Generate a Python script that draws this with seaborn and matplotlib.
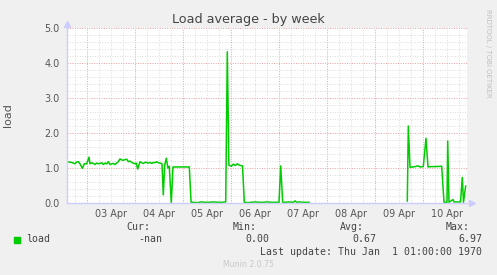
import numpy as np
import pandas as pd
import matplotlib
matplotlib.use("Agg")
import matplotlib.pyplot as plt
from matplotlib.patches import Rectangle
from matplotlib.ticker import MultipleLocator, FixedLocator, NullFormatter
import seaborn as sns

# ---- data (hours relative to 03 Apr 00:00) ----
seg_a_hours = [-10.3, -9.0, -7.8, -6.9, -6.15, -5.3, -4.5, -3.65, -2.5, -1.5, -0.3, 0.85, 1.35,
               2.2, 3.0, 3.85, 4.7, 5.5, 6.3, 7.2, 8.0, 8.85, 9.7, 10.5, 11.35, 12.2, 13.0,
               13.85, 14.7, 15.5, 16.35, 17.2, 18.0, 18.8, 19.7, 20.5, 21.3, 22.2, 23.0, 23.85,
               24.5, 25.2, 26.35, 27.2, 28.0, 28.8, 29.7, 30.5, 31.35, 32.2, 33.0, 33.8, 34.7,
               35.5, 36.35, 37.35, 38.0, 38.7, 39.5, 40.3, 41.0, 42.0, 42.85, 51.0, 51.9,
               53, 55, 57, 59, 61, 63, 65, 67, 69.2, 70.0, 70.8, 72.0, 73.0, 74.0, 75.0, 76.0,
               77.6, 78.5, 80, 82, 84, 86, 88, 90, 92, 94, 95.85, 96.7, 97.7, 99, 101, 103,
               103.85, 104.7, 106, 108, 110, 111]
seg_a_load = [1.18, 1.17, 1.16, 1.14, 1.12, 1.17, 1.18, 1.12, 0.99, 1.12, 1.12, 1.31, 1.12,
              1.15, 1.13, 1.10, 1.14, 1.12, 1.13, 1.15, 1.10, 1.14, 1.12, 1.18, 1.10, 1.12, 1.13,
              1.10, 1.14, 1.18, 1.26, 1.23, 1.22, 1.24, 1.25, 1.18, 1.20, 1.16, 1.14, 1.12,
              1.14, 0.97, 1.18, 1.15, 1.13, 1.16, 1.16, 1.14, 1.16, 1.13, 1.16, 1.15, 1.18,
              1.15, 1.14, 1.12, 0.23, 1.08, 1.28, 1.00, 1.05, 0.00, 1.03, 1.03, 0.02,
              0.02, 0.01, 0.03, 0.02, 0.02, 0.03, 0.02, 0.02, 0.03, 4.32, 1.08, 1.05, 1.11, 1.07, 1.12, 1.08,
              1.06, 0.02, 0.01, 0.02, 0.03, 0.02, 0.02, 0.03, 0.02, 0.02, 0.02, 1.06, 0.02, 0.02, 0.03, 0.02,
              0.06, 0.02, 0.03, 0.02, 0.02, 0.02]
seg_b_hours = [160.0, 160.5, 161.35, 163, 165.35, 166.35, 168.0, 169.35, 170.35, 172, 174,
               177.2, 178.35, 179.85, 180.2, 180.85, 182.85, 183.35, 186.6, 187.5, 188.1, 189.2]
seg_b_load = [0.05, 2.20, 1.02, 1.03, 1.06, 1.03, 1.04, 1.85, 1.03, 1.04, 1.04,
              1.05, 0.02, 0.02, 1.77, 0.02, 0.10, 0.03, 0.03, 0.73, 0.02, 0.49]

day_labels = ["03 Apr", "04 Apr", "05 Apr", "06 Apr", "07 Apr", "08 Apr", "09 Apr", "10 Apr"]
y_ticks = [0.0, 1.0, 2.0, 3.0, 4.0, 5.0]
legend_name = "load"
stats_labels = ["Cur:", "Min:", "Avg:", "Max:"]
stats_values = ["-nan", "0.00", "0.67", "6.97"]

df = pd.DataFrame({
    "hours": seg_a_hours + seg_b_hours,
    "load": seg_a_load + seg_b_load,
    "segment": [0] * len(seg_a_hours) + [1] * len(seg_b_hours),
})

# ---- figure ----
sns.set_style("white")
plt.rcParams["font.family"] = ["DejaVu Sans"]
W, H = 497, 275
fig = plt.figure(figsize=(W / 100, H / 100), dpi=100)
fig.patch.set_facecolor("#f0f0f0")

def fx(px):
    return px / W

def fy(py):
    return 1 - py / H

left, right, top, bottom = 66.7, 466.7, 28, 203
ax = fig.add_axes([fx(left), fy(bottom), (right - left) / W, (bottom - top) / H])
ax.set_facecolor("white")

sns.lineplot(data=df, x="hours", y="load", units="segment", estimator=None,
             color="#00cc00", lw=1.1, ax=ax, legend=False)

ax.set_xlim(-10.3, 189.7)
ax.set_ylim(0, 5)

# grid
ax.xaxis.set_major_locator(MultipleLocator(24))
ax.xaxis.set_minor_locator(MultipleLocator(6))
ax.yaxis.set_major_locator(FixedLocator(y_ticks))
ax.yaxis.set_minor_locator(MultipleLocator(0.2))
ax.xaxis.set_major_formatter(NullFormatter())
ax.set_yticklabels([f"{v:.1f}" for v in y_ticks])
ax.grid(True, which="major", color="#e8a0a0", linestyle=(0, (1, 1.5)), lw=0.7)
ax.grid(True, which="minor", color="#d0d0d0", linestyle=(0, (1, 2)), lw=0.6)
ax.set_axisbelow(True)

ax.tick_params(axis="x", which="major", length=3, color="#e8a0a0", direction="out", pad=1)
ax.tick_params(axis="x", which="minor", length=2, color="#cccccc", direction="out")
ax.tick_params(axis="y", which="major", length=2, color="#e8a0a0", direction="out",
               labelsize=6.9, labelcolor="#555555", pad=3)
ax.tick_params(axis="y", which="minor", length=2, color="#cccccc", direction="out")

# day labels at noon
sec = ax.secondary_xaxis("bottom")
sec.set_xticks([12 + 24 * i for i in range(len(day_labels))])
sec.set_xticklabels(day_labels)
sec.tick_params(length=0, labelsize=6.9, labelcolor="#555555", pad=4)
sec.spines["bottom"].set_visible(False)

for s in ["top", "right"]:
    ax.spines[s].set_visible(False)
for s in ["left", "bottom"]:
    ax.spines[s].set_color("#ccccff")
    ax.spines[s].set_linewidth(1.0)

# axis arrows
ax.plot([0], [1.025], marker="^", ms=4.2, color="#ccccff", transform=ax.transAxes, clip_on=False)
ax.plot([1.013], [0], marker=">", ms=4.2, color="#ccccff", transform=ax.transAxes, clip_on=False)

ax.set_xlabel("")
ax.set_ylabel("load", fontsize=8, color="#555555", labelpad=0)
ax.yaxis.set_label_coords(-(left - 13.5) / (right - left), 0.5)

# title and side text
fig.text(0.5, fy(19), "Load average - by week", ha="center", va="center",
         fontsize=9.2, color="#444444")
fig.text(fx(488), fy(53), "RRDTOOL / TOBI OETIKER", rotation=270, ha="center", va="center",
         fontsize=5.0, color="#c0c0c0")

# legend / stats area
mono = "DejaVu Sans Mono"
fig.patches.append(Rectangle((fx(14), fy(242.5)), 6 / W, 6 / H, transform=fig.transFigure,
                             color="#00cc00"))
fig.text(fx(26.5), fy(239.5), legend_name, family=mono, fontsize=7.1, color="#444444",
         ha="left", va="center")
label_right = [150, 256.5, 363.5, 470]
value_right = [162.5, 269, 376, 482.5]
for lab, xr in zip(stats_labels, label_right):
    fig.text(fx(xr), fy(227.5), lab, family=mono, fontsize=7.1, color="#444444",
             ha="right", va="center")
for val, xr in zip(stats_values, value_right):
    fig.text(fx(xr), fy(239.5), val, family=mono, fontsize=7.1, color="#444444",
             ha="right", va="center")
fig.text(fx(482.5), fy(252), "Last update: Thu Jan  1 01:00:00 1970", family=mono,
         fontsize=7.1, color="#444444", ha="right", va="center")
fig.text(fx(248.5), fy(264.5), "Munin 2.0.75", fontsize=5.6, color="#c8c8c8",
         ha="center", va="center")

fig.savefig("out.png", dpi=100, facecolor=fig.get_facecolor())
